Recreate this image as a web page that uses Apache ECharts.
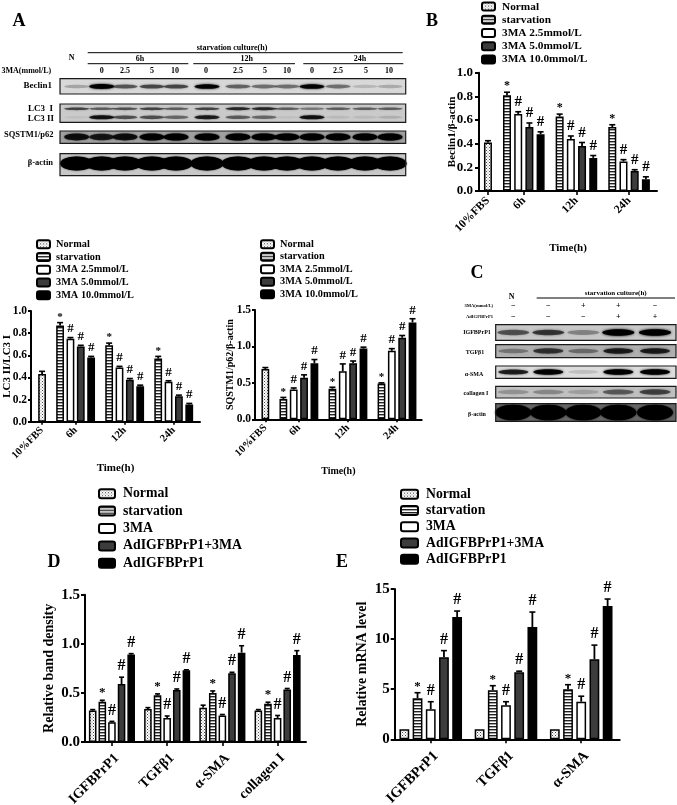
<!DOCTYPE html>
<html><head><meta charset="utf-8">
<style>html,body{margin:0;padding:0;background:#fff}#c{width:677px;height:805px;filter:blur(0.4px)}</style>
<script src="https://cdn.jsdelivr.net/npm/echarts@6/dist/echarts.min.js"></script>
</head><body><div id="c"></div>
<script>
// ---------- data ----------
const timeTreatments = ['Normal','starvation','3MA 2.5mmol/L','3MA 5.0mmol/L','3MA 10.0mmol/L'];
const timeGroups = ['10%FBS','6h','12h','24h'];
const timeMarks = ['', '*', '#', '#', '#'];
// rows: treatment; Normal has the 10%FBS value, others 6h,12h,24h
const beclinMeans = [[0.41],[0.81,0.63,0.54],[0.65,0.44,0.25],[0.54,0.38,0.17],[0.48,0.28,0.10]];
const beclinErrors = [[0.015],[0.025,0.02,0.02],[0.02,0.025,0.015],[0.035,0.03,0.01],[0.02,0.02,0.02]];
const lc3Means = [[0.43],[0.87,0.69,0.57],[0.75,0.49,0.36],[0.68,0.38,0.23],[0.58,0.32,0.155]];
const lc3Errors = [[0.025],[0.025,0.02,0.02],[0.01,0.01,0.01],[0.01,0.01,0.01],[0.01,0.01,0.01]];
const p62Means = [[0.69],[0.28,0.42,0.49],[0.41,0.66,0.94],[0.57,0.77,1.12],[0.77,0.97,1.33]];
const p62Errors = [[0.02],[0.02,0.02,0.01],[0.02,0.10,0.03],[0.04,0.03,0.03],[0.05,0.02,0.05]];

const adTreatments = ['Normal','starvation','3MA','AdIGFBPrP1+3MA','AdIGFBPrP1'];
const adMarks = ['', '*', '#', '#', '#'];
const bandGroups = ['IGFBPrP1','TGFβ1','α-SMA','collagen I'];
const bandMeans = [[0.32,0.335,0.35,0.32],[0.41,0.475,0.50,0.39],[0.20,0.245,0.27,0.245],[0.59,0.53,0.70,0.535],[0.89,0.73,0.91,0.885]];
const bandErrors = [[0.01,0.015,0.025,0.01],[0.015,0.015,0.02,0.015],[0.01,0.02,0.01,0.025],[0.07,0.01,0.01,0.01],[0.01,0.005,0.07,0.045]];
const mrnaGroups = ['IGFBPrP1','TGFβ1','α-SMA'];
const mrnaMeans = [[1,1,1],[4.1,4.9,5.0],[3.0,3.4,3.75],[8.2,6.7,8.0],[12.2,11.2,13.3]];
const mrnaErrors = [[0,0,0],[0.55,0.45,0.45],[0.75,0.35,0.55],[0.65,0.1,1.4],[0.6,1.5,0.7]];

// blot band strengths, lane by lane
const blotBeclin = [.3,1,.6,.65,.65,.95,.55,.5,.5,.95,.5,.22,.28];
const blotLc3One = [.65,.55,.6,.65,.55,.65,.75,.75,.55,.45,.55,.55,.55];
const blotLc3Two = [.1,.85,.6,.6,.5,.8,.55,.5,.1,.85,.15,.15,.2];
const blotP62 = [.85,.8,.85,.95,1,1,1,1,1,1,1,1,1];
const blotActinA = [1,1,1,1,1,1,1,1,1,1,1,1,1];
const blotIgf = [.6,.7,.4,1,1];
const blotTgf = [.4,.7,.45,.8,.8];
const blotSma = [.8,.95,.2,1,1];
const blotCol = [.3,.35,.25,.55,.65];
const blotActinC = [1,1,1,1,1];
const doseLabels = ['0','2.5','5','10','0','2.5','5','10','0','2.5','5','10'];
const sign3ma = ['−','−','+','+','−'];
const signAd = ['−','−','−','+','+'];

// ---------- styling helpers ----------
const SERIF = '"Liberation Serif","DejaVu Serif",serif';
function pat(w,h,draw){const c=document.createElement('canvas');c.width=w;c.height=h;const x=c.getContext('2d');x.fillStyle='#fff';x.fillRect(0,0,w,h);draw(x);return {image:c,repeat:'repeat'};}
const dotFill = pat(3,3,x=>{x.fillStyle='#444';x.fillRect(0,0,1,1);x.fillStyle='#777';x.fillRect(1.5,1.5,1,1);});
const stripeFill = pat(3,3,x=>{x.fillStyle='#222';x.fillRect(0,0,3,1.4);});
const fills = [dotFill,stripeFill,'#ffffff','#3c3c3c','#000000'];

const grids=[],xAxes=[],yAxes=[],series=[],legends=[],graphics=[];

function addPanel(p){
  const i=grids.length;
  const w=p.right-p.left;
  grids.push({left:p.left,top:p.top,width:w,height:p.bottom-p.top,containLabel:false,outerBoundsMode:'none'});
  const span=w/p.unit;
  const groupBars=p.groups.map(()=>[]);
  const errRows=[],errMarks=[];
  p.means.forEach((row,s)=>{
    const pts=row.map((v,k)=>{
      let g,x;
      if(p.timeLayout){
        g = s===0 ? 0 : k+1;
        x = s===0 ? p.first : p.first + p.gap*g + 3*(g-1) + (s-1);
      }else{
        g = k; x = p.first + g*p.step + s;
      }
      groupBars[g].push(x);
      errRows.push([x,v,p.errors[s][k]]);errMarks.push(p.marks[s]);
      return [x,v];
    });
    series.push({type:'bar',name:p.names[s],xAxisIndex:i,yAxisIndex:i,data:pts,barWidth:p.barW,barGap:'-100%',
      itemStyle:{color:fills[s],borderColor:'#000',borderWidth:1.5},silent:true,animation:false});
  });
  const ticks=groupBars.map(b=>(Math.min(...b)+Math.max(...b))/2);
  xAxes.push({gridIndex:i,type:'value',min:0,max:span,
    name:p.xName||'',nameLocation:'middle',nameGap:p.xNameGap,nameMoveOverlap:false,
    nameTextStyle:{fontFamily:SERIF,fontWeight:'bold',fontSize:p.nameFont,color:'#000'},
    splitLine:{show:false},
    axisLine:{lineStyle:{color:'#000',width:2}},
    axisTick:{customValues:ticks,length:p.tickLen,lineStyle:{color:'#000',width:1.6},inside:false},
    axisLabel:{customValues:ticks,rotate:45,margin:p.xMargin,fontFamily:SERIF,fontWeight:'bold',fontSize:p.xFont,color:'#000',
      verticalAlign:p.xVA||'middle',
      formatter:(v,idx)=>p.groups[ticks.findIndex(t=>Math.abs(t-v)<1e-6)]}});
  yAxes.push({gridIndex:i,type:'value',min:0,max:p.yMax,interval:p.yInt,
    name:p.yName,nameLocation:'middle',nameGap:p.yNameGap,nameMoveOverlap:false,
    nameTextStyle:{fontFamily:SERIF,fontWeight:'bold',fontSize:p.nameFont,color:'#000'},
    splitLine:{show:false},
    axisLine:{show:true,lineStyle:{color:'#000',width:2}},
    axisTick:{show:true,length:p.tickLen,lineStyle:{color:'#000',width:2}},
    axisLabel:{margin:p.yMargin,fontFamily:SERIF,fontWeight:'bold',fontSize:p.yFont,color:'#000',
      formatter:v=>p.yDigits?v.toFixed(p.yDigits):String(v)}});
  series.push({type:'custom',name:'errors'+i,xAxisIndex:i,yAxisIndex:i,data:errRows,clip:false,silent:true,animation:false,z:5,
    encode:{x:0,y:1},
    renderItem:(params,api)=>{
      const x=api.value(0),y=api.value(1),e=api.value(2);
      const a=api.coord([x,y]),b=api.coord([x,y+e]);
      const cap=p.capW;
      const kids=[];
      if(e>0){
        kids.push({type:'line',shape:{x1:a[0],y1:a[1],x2:b[0],y2:b[1]},style:{stroke:'#000',lineWidth:1.8}});
        kids.push({type:'line',shape:{x1:b[0]-cap,y1:b[1],x2:b[0]+cap,y2:b[1]},style:{stroke:'#000',lineWidth:1.6}});
      }
      const m=errMarks[params.dataIndex];
      if(m){
        const star=m==='*';
        kids.push({type:'text',style:{text:m,x:a[0],y:b[1]-(star?p.starLift:p.hashLift),
          font:'bold '+(star?p.starFont:p.hashFont)+'px '+SERIF,fill:'#000',align:'center',textAlign:'center',verticalAlign:'bottom',textVerticalAlign:'bottom'}});
      }
      return {type:'group',children:kids};
    }});
  legends.push({left:p.lg.x,top:p.lg.y,orient:'vertical',align:'left',padding:0,itemGap:p.lg.gap,itemWidth:p.lg.w,itemHeight:p.lg.h,
    selectedMode:false,icon:'roundRect',data:p.names,
    itemStyle:{borderColor:'#000',borderWidth:2},
    textStyle:{fontFamily:SERIF,fontWeight:'bold',fontSize:p.lg.font,color:'#000',padding:[0,0,0,p.lg.pad],lineHeight:p.lg.lh,height:p.lg.lh}});
}

addPanel({groups:timeGroups,names:timeTreatments,marks:timeMarks,means:beclinMeans,errors:beclinErrors,timeLayout:true,
  left:479,right:657,top:72.7,bottom:191,unit:11.2,first:0.8,gap:1.7,barW:8,capW:3,
  yMax:1,yInt:0.2,yDigits:1,yName:'Beclin1/β-actin',yNameGap:21.5,xName:'Time(h)',xNameGap:52,nameFont:11,yFont:13,xFont:11.5,tickLen:4,yMargin:6,xMargin:8,
  starFont:12,hashFont:15,starLift:0,hashLift:2,
  lg:{x:481,y:0,gap:0,w:13,h:8,font:11.3,pad:2,lh:13.2}});
addPanel({groups:timeGroups,names:timeTreatments,marks:timeMarks,means:lc3Means,errors:lc3Errors,timeLayout:true,
  left:31,right:200,top:311,bottom:421.7,unit:10.35,first:1.07,gap:1.74,barW:7.8,capW:3,
  yMax:1,yInt:0.2,yDigits:1,yName:'LC3 II/LC3 I',yNameGap:18,xName:'Time(h)',xNameGap:41,nameFont:11,yFont:11.5,xFont:10.5,tickLen:3,yMargin:4,xMargin:7,
  starFont:11,hashFont:13,starLift:0,hashLift:2,
  lg:{x:36,y:238,gap:0,w:13,h:8,font:10.3,pad:1,lh:12.7}});
addPanel({groups:timeGroups,names:timeTreatments,marks:timeMarks,means:p62Means,errors:p62Errors,timeLayout:true,
  left:255,right:421.7,top:310,bottom:419.3,unit:10.35,first:1.0,gap:1.74,barW:7.8,capW:3,
  yMax:1.5,yInt:0.5,yDigits:1,yName:'SQSTM1/p62/β-actin',yNameGap:20,xName:'Time(h)',xNameGap:47,nameFont:10,yFont:11.5,xFont:10.5,tickLen:3,yMargin:4,xMargin:7,
  starFont:11,hashFont:13,starLift:0,hashLift:2,
  lg:{x:260,y:238,gap:0,w:13,h:8,font:10.3,pad:1,lh:12.5}});
addPanel({groups:bandGroups,names:adTreatments,marks:adMarks,means:bandMeans,errors:bandErrors,
  left:85,right:306,top:594.7,bottom:742,unit:9.62,first:0.8,step:5.74,barW:7.6,capW:2.5,
  yMax:1.5,yInt:0.5,yDigits:1,yName:'Relative band density',yNameGap:29,nameFont:14,yFont:15,xFont:14,tickLen:4,yMargin:5,xMargin:9,xVA:'top',
  starFont:13,hashFont:16,starLift:1,hashLift:3,
  lg:{x:98,y:485,gap:0,w:16,h:9,font:13.8,pad:3,lh:17.4}});
addPanel({groups:mrnaGroups,names:adTreatments,marks:adMarks,means:mrnaMeans,errors:mrnaErrors,
  left:394.7,right:619.7,top:589,bottom:739.3,unit:13.2,first:0.73,step:5.7,barW:9.8,capW:3,
  yMax:15,yInt:5,yDigits:0,yName:'Relative mRNA level',yNameGap:25,nameFont:14,yFont:15,xFont:14.5,tickLen:4,yMargin:5,xMargin:9,xVA:'top',
  starFont:13,hashFont:16,starLift:0,hashLift:3,
  lg:{x:400,y:486,gap:0,w:17,h:9,font:13.7,pad:3,lh:16.3}});

// ---------- western blots and captions (decoration via graphic) ----------
function txt(t,x,y,size,align,opts){
  graphics.push(Object.assign({type:'text',silent:true,z:10,style:{text:t,x:x,y:y,font:(opts&&opts.weight||'bold')+' '+size+'px '+SERIF,fill:'#000',
    align:align||'center',textAlign:align||'center',verticalAlign:'middle',textVerticalAlign:'middle'}}));
}
function hline(x1,x2,y,w){graphics.push({type:'line',silent:true,z:10,shape:{x1:x1,y1:y,x2:x2,y2:y},style:{stroke:'#000',lineWidth:w||1}});}
function blotBox(x,y,w,h,bg){
  graphics.push({type:'rect',silent:true,z:1,shape:{x:x,y:y,width:w,height:h},style:{fill:bg,stroke:null}});
}
function blotFrame(x,y,w,h){
  graphics.push({type:'rect',silent:true,z:4,shape:{x:x,y:y,width:w,height:h},style:{fill:null,stroke:'#1a1a1a',lineWidth:1.2}});
}
function bands(vals,lanes,cy,rx,ry,blur){
  vals.forEach((v,i)=>{
    const col='rgba(0,0,0,'+Math.min(1,Math.pow(v,1.3)).toFixed(2)+')';
    const r=ry*(0.6+0.4*v);
    graphics.push({type:'ellipse',silent:true,z:2,shape:{cx:lanes[i],cy:cy,rx:rx,ry:r},style:{fill:col,shadowBlur:blur,shadowColor:col}});
  });
}
// panel letters
txt('A',19,21,18);txt('B',432,21,18);txt('C',477,273,18);txt('D',54,562,18);txt('E',342,562,18);

// panel A
const lanesA=[76.7,101.7,125,152,176,207,238,264,287,312,338,365,390];
const ax=60,aw=345.7;
blotBox(ax,78.7,aw,15.3,'#d8d8d8');bands(blotBeclin,lanesA,86.5,12.5,2.4,2.5);blotFrame(ax,78.7,aw,15.3);
blotBox(ax,104,aw,18.3,'#cacaca');bands(blotLc3One,lanesA,108.8,12.5,1.6,2);bands(blotLc3Two,lanesA,117.3,12.5,2.2,2);blotFrame(ax,104,aw,18.3);
blotBox(ax,131,aw,12.3,'#a0a0a0');bands(blotP62,lanesA,137,12.5,3.6,2);blotFrame(ax,131,aw,12.3);
blotBox(ax,153.7,aw,22,'#c8c8c8');bands(blotActinA,lanesA,163.5,16.5,7,1.5);blotFrame(ax,153.7,aw,22);
txt('starvation culture(h)',232,48.3,8);hline(87.7,402.7,52.7);
txt('N',71.7,58.3,8);
txt('6h',140,59.3,8);txt('12h',246.7,59.3,8);txt('24h',360,59.3,8);
hline(87.7,188.3,63.7);hline(193.3,295,63.7);hline(303.3,403.3,63.7);
txt('3MA(mmol/L)',1.5,70.7,8,'left');
doseLabels.forEach((d,i)=>txt(d,[101.7,125,152,175,206,238,265,287,312,338,366,389][i],70.7,8));
txt('Beclin1',52,85.7,9,'right');txt('LC3  I',53,108.3,9,'right');txt('LC3 II',54,119,9,'right');
txt('SQSTM1/p62',53.5,134.3,8.5,'right');txt('β-actin',53,163,8.5,'right');

// panel C
const lanesC=[513.3,548.3,583.3,618.3,655];
const cx=495.7,cw=180.3;
blotBox(cx,324.7,cw,15.6,'#c8c8c8');bands(blotIgf,lanesC,332.5,16,3.2,3);blotFrame(cx,324.7,cw,15.6);
blotBox(cx,344.7,cw,13,'#b0b0b0');bands(blotTgf,lanesC,351,15,3,3);blotFrame(cx,344.7,cw,13);
blotBox(cx,366,cw,12.3,'#dcdcdc');bands(blotSma,lanesC,372,15,2.8,2.5);blotFrame(cx,366,cw,12.3);
blotBox(cx,386.3,cw,11.7,'#c0c0c0');bands(blotCol,lanesC,392,15.5,3.2,3);blotFrame(cx,386.3,cw,11.7);
blotBox(cx,403.7,cw,17.6,'#666666');bands(blotActinC,lanesC,412.5,18,7.8,2);blotFrame(cx,403.7,cw,17.6);
txt('N',511.7,296.7,8);txt('starvation culture(h)',615.7,293,7);hline(536.7,675,298);
txt('3MA(mmol/L)',493,305.7,4.6,'right');txt('AdIGFBPrP1',493,316.7,4.6,'right');
sign3ma.forEach((s,i)=>txt(s,lanesC[i],305.7,8));
signAd.forEach((s,i)=>txt(s,lanesC[i],316.7,8));
txt('IGFBPrP1',477,332.3,6);txt('TGFβ1',475,352.7,6);txt('α-SMA',474,374,6);txt('collagen I',476,393,6);txt('β-actin',477,414,6);

const chart=echarts.init(document.getElementById('c'),null,{width:677,height:805,devicePixelRatio:1});
chart.setOption({backgroundColor:'#fff',animation:false,grid:grids,xAxis:xAxes,yAxis:yAxes,series:series,legend:legends,graphic:{elements:graphics}});
</script></body></html>
